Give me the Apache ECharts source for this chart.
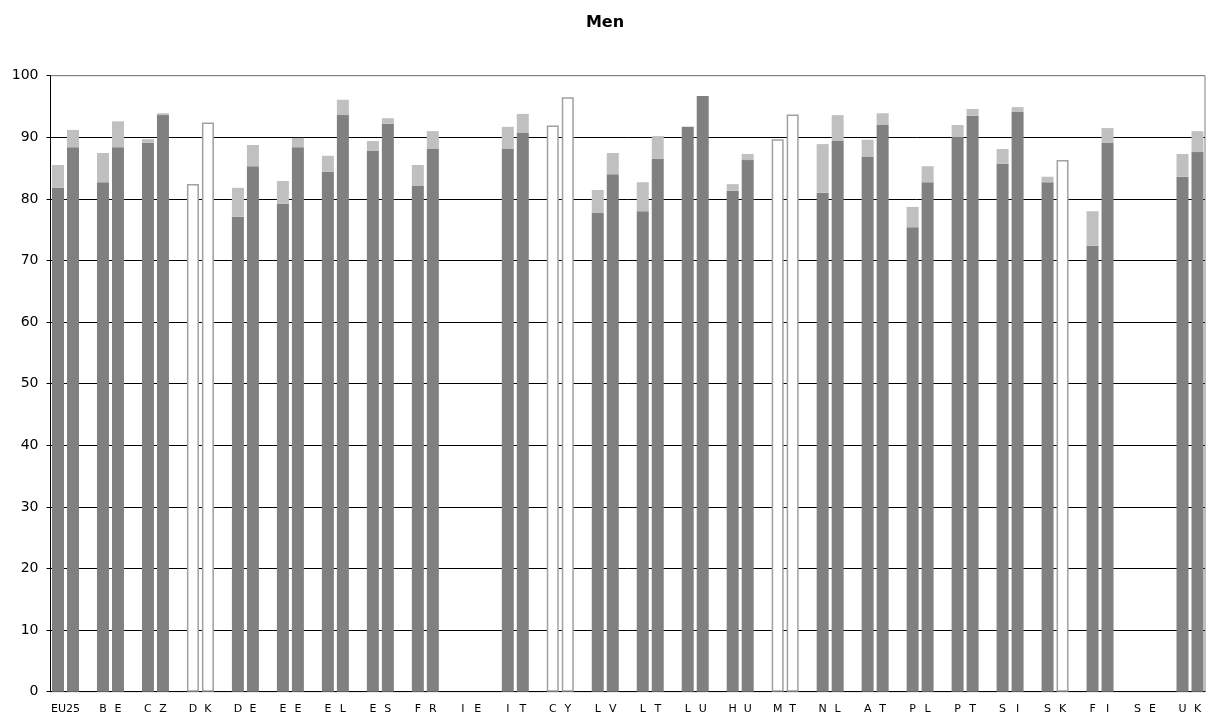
<!DOCTYPE html>
<html>
<head>
<meta charset="utf-8">
<script src="https://cdn.jsdelivr.net/npm/echarts@6/dist/echarts.min.js"></script>
<style>html,body{margin:0;padding:0;background:#fff;}#c{width:1210px;height:717px;}</style>
</head>
<body>
<div id="c"></div>
<script>
var countries = ["EU25","BE","CZ","DK","DE","EE","EL","ES","FR","IE","IT","CY","LV","LT","LU","HU","MT","NL","AT","PL","PT","SI","SK","FI","SE","UK"];
// first bar of each country: dark base and total (top of light segment)
var base1 = [81.8,82.7,89.1,null,77.1,79.2,84.4,87.8,82.1,null,88.1,null,77.7,78.0,91.7,81.3,null,81.0,86.8,75.4,90.05,85.7,82.7,72.4,null,83.6];
var top1  = [85.5,87.45,89.7,null,81.8,82.9,87.0,89.4,85.5,null,91.7,null,81.45,82.7,91.7,82.4,null,88.9,89.6,78.7,92.0,88.1,83.6,78.0,null,87.3];
// second bar
var base2 = [88.4,88.4,93.6,null,85.3,88.4,93.6,92.2,88.1,null,90.7,null,84.0,86.5,96.7,86.3,null,89.4,92.0,82.7,93.5,94.1,null,89.1,null,87.6];
var top2  = [91.2,92.6,93.9,null,88.75,89.9,96.1,93.1,91.0,null,93.8,null,87.45,90.2,96.7,87.3,null,93.6,93.9,85.3,94.6,94.9,null,91.5,null,91.0];
// hollow (outlined) bars
var hollow1 = [null,null,null,82.4,null,null,null,null,null,null,null,91.9,null,null,null,null,89.7,null,null,null,null,null,null,null,null,null];
var hollow2 = [null,null,null,92.4,null,null,null,null,null,null,null,96.5,null,null,null,null,93.7,null,null,null,null,null,86.3,null,null,null];

var slots = [], dark = [], light = [], hollow = [];
function seg(b, t) { return (b == null) ? '-' : +(t - b).toFixed(2); }
countries.forEach(function (c, i) {
  var l1, l2;
  if (c.length === 2) { l1 = c[0]; l2 = c[1]; } else { l1 = '{s|' + c + '}'; l2 = ''; }
  slots.push(l1); dark.push(base1[i] == null ? '-' : base1[i]); light.push(seg(base1[i], top1[i])); hollow.push(hollow1[i] == null ? '-' : hollow1[i]);
  slots.push(l2); dark.push(base2[i] == null ? '-' : base2[i]); light.push(seg(base2[i], top2[i])); hollow.push(hollow2[i] == null ? '-' : hollow2[i]);
  if (i < countries.length - 1) { slots.push(''); dark.push('-'); light.push('-'); hollow.push('-'); }
});

var splitColors = [];
for (var k = 0; k <= 10; k++) splitColors.push(k === 10 ? '#808080' : '#000000');

var FONT = 'DejaVu Sans, Liberation Sans, Arial';
var chart = echarts.init(document.getElementById('c'));
chart.setOption({
  animation: false,
  backgroundColor: '#ffffff',
  title: {
    text: 'Men', left: 'center', top: 10,
    textStyle: { fontFamily: FONT, fontWeight: 'bold', fontSize: 16, color: '#000' }
  },
  grid: { left: 50.5, right: 5, top: 75.7, bottom: 25.3, show: true, borderColor: '#808080', borderWidth: 1 },
  xAxis: {
    type: 'category', data: slots, boundaryGap: true,
    axisLine: { lineStyle: { color: '#000', width: 1 } },
    axisTick: { interval: 0, length: 4, lineStyle: { color: '#000' } },
    axisLabel: {
      interval: 0, margin: 12, fontFamily: FONT, fontSize: 11, color: '#000',
      rich: { s: { fontFamily: FONT, fontSize: 11, color: '#000', padding: [0, 0, 0, 15] } }
    },
    splitLine: { show: false }
  },
  yAxis: {
    type: 'value', min: 0, max: 100, interval: 10,
    axisLine: { show: true, lineStyle: { color: '#000', width: 1 } },
    axisTick: { show: true, length: 4, lineStyle: { color: '#000' } },
    axisLabel: { margin: 12, fontFamily: FONT, fontSize: 14, color: '#000' },
    splitLine: { show: true, lineStyle: { color: splitColors, width: 1 } }
  },
  series: [
    { name: 'base', type: 'bar', stack: 's', data: dark, barWidth: '80%', itemStyle: { color: '#808080' } },
    { name: 'top', type: 'bar', stack: 's', data: light, barWidth: '80%', itemStyle: { color: '#c0c0c0' } },
    { name: 'hollow', type: 'bar', stack: 's', data: hollow, barWidth: '80%', itemStyle: { color: '#ffffff', borderColor: '#a0a0a0', borderWidth: 1.5 } }
  ]
});
</script>
</body>
</html>
